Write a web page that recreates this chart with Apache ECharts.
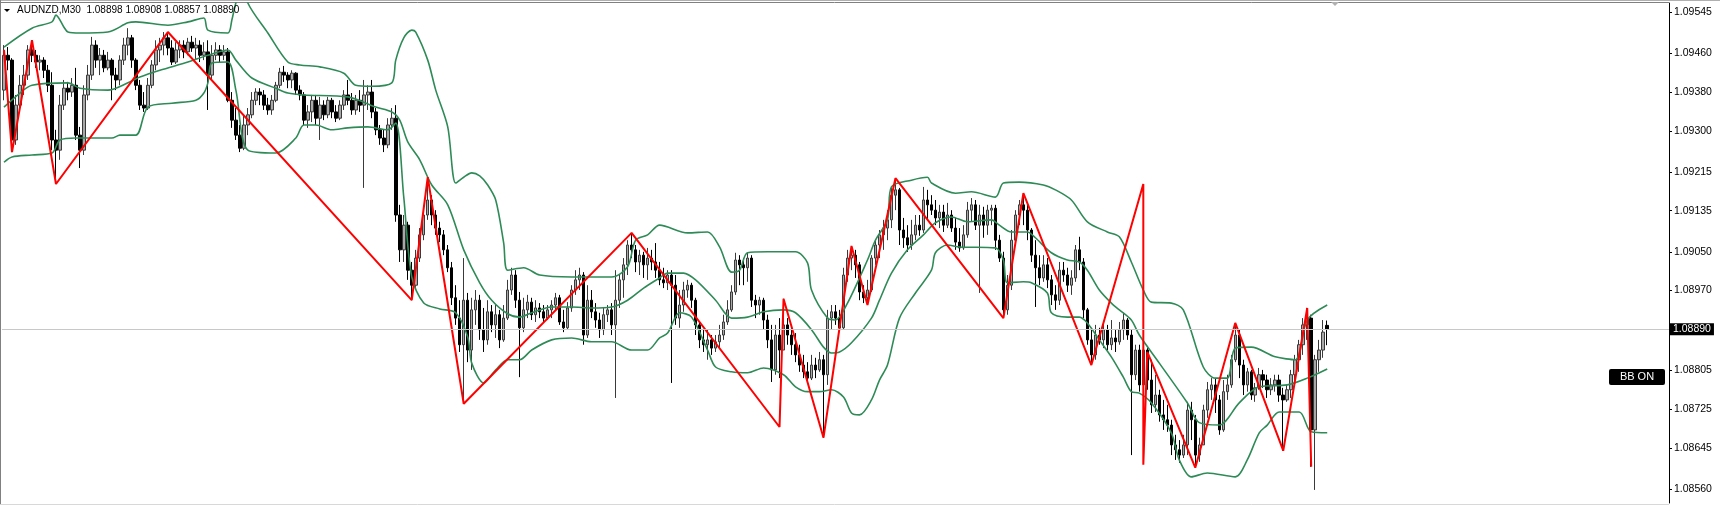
<!DOCTYPE html>
<html><head><meta charset="utf-8">
<script src="https://cdn.jsdelivr.net/npm/echarts@6/dist/echarts.min.js"></script>
<style>html,body{margin:0;padding:0;background:#fff}#c{width:1720px;height:505px}</style>
</head><body><div id="c"></div><script>
const symbolName = 'AUDNZD,M30';
const lastQuote = ['1.08898','1.08908','1.08857','1.08890'];
const currentPrice = 1.08890;
const indicatorTag = 'BB ON';
const tickLabels = ['1.08560','1.08645','1.08725','1.08805','1.08970','1.09050','1.09135','1.09215','1.09300','1.09380','1.09460','1.09545'];
const totalSlots = 417;

const open = [1.09384,1.09456,1.09446,1.09281,1.09353,1.09394,1.09415,1.09467,1.09456,1.09442,
1.09446,1.09425,1.09394,1.09281,1.09260,1.09353,1.09388,1.09380,1.09394,1.09291,
1.09260,1.09374,1.09415,1.09477,1.09446,1.09456,1.09430,1.09446,1.09415,1.09405,
1.09446,1.09477,1.09492,1.09446,1.09394,1.09353,1.09347,1.09394,1.09436,1.09467,
1.09477,1.09492,1.09471,1.09442,1.09467,1.09477,1.09463,1.09483,1.09471,1.09477,
1.09456,1.09463,1.09415,1.09456,1.09467,1.09456,1.09463,1.09363,1.09322,1.09291,
1.09264,1.09312,1.09333,1.09363,1.09380,1.09374,1.09353,1.09343,1.09363,1.09394,
1.09421,1.09415,1.09405,1.09419,1.09384,1.09374,1.09322,1.09339,1.09363,1.09326,
1.09353,1.09333,1.09363,1.09339,1.09326,1.09353,1.09374,1.09363,1.09343,1.09363,
1.09353,1.09374,1.09380,1.09339,1.09302,1.09285,1.09271,1.09312,1.09326,1.09126,
1.09054,1.09105,1.09012,1.08981,1.09037,1.09085,1.09126,1.09157,1.09126,1.09099,
1.09085,1.09054,1.09017,1.08955,1.08913,1.08858,1.08950,1.08847,1.08930,1.08950,
1.08889,1.08868,1.08926,1.08899,1.08920,1.08868,1.08913,1.08971,1.09002,1.08950,
1.08893,1.08930,1.08946,1.08920,1.08934,1.08926,1.08913,1.08930,1.08940,1.08955,
1.08905,1.08893,1.08934,1.08971,1.08992,1.09002,1.08878,1.08950,1.08926,1.08909,
1.08889,1.08920,1.08930,1.08899,1.08950,1.08992,1.09023,1.09064,1.09054,1.09029,
1.09043,1.09023,1.09037,1.09029,1.09012,1.08992,1.08986,1.09002,1.08981,1.08913,
1.08940,1.08971,1.08981,1.08950,1.08899,1.08868,1.08858,1.08868,1.08851,1.08864,
1.08878,1.08905,1.08930,1.08967,1.09033,1.09023,1.09017,1.09037,1.08950,1.08940,
1.08950,1.08909,1.08868,1.08806,1.08878,1.08847,1.08899,1.08878,1.08858,1.08837,
1.08816,1.08802,1.08789,1.08816,1.08806,1.08827,1.08796,1.08913,1.08926,1.08913,
1.08893,1.09002,1.09037,1.09043,1.09023,1.08967,1.08955,1.08971,1.09037,1.09064,
1.09085,1.09099,1.09116,1.09167,1.09178,1.09095,1.09079,1.09064,1.09085,1.09105,
1.09095,1.09157,1.09147,1.09136,1.09120,1.09132,1.09105,1.09126,1.09099,1.09070,
1.09058,1.09085,1.09136,1.09147,1.09105,1.09126,1.09105,1.09136,1.09140,1.09074,
1.09037,1.08930,1.08981,1.09074,1.09126,1.09147,1.09136,1.09095,1.09043,1.09017,
1.08996,1.09023,1.08992,1.08961,1.08950,1.09012,1.09002,1.08981,1.08996,1.09054,
1.09029,1.08930,1.08868,1.08837,1.08878,1.08868,1.08889,1.08858,1.08872,1.08864,
1.08889,1.08909,1.08878,1.08796,1.08847,1.08775,1.08847,1.08785,1.08734,1.08754,
1.08713,1.08703,1.08692,1.08651,1.08641,1.08630,1.08651,1.08723,1.08703,1.08630,
1.08651,1.08723,1.08765,1.08775,1.08744,1.08682,1.08761,1.08775,1.08827,1.08878,
1.08816,1.08775,1.08802,1.08754,1.08769,1.08796,1.08785,1.08765,1.08775,1.08785,
1.08754,1.08744,1.08765,1.08796,1.08827,1.08858,1.08899,1.08913,1.08682,1.08827,
1.08847,1.08898];

const close = [1.09456,1.09446,1.09281,1.09353,1.09394,1.09415,1.09467,1.09456,1.09442,1.09446,
1.09425,1.09394,1.09281,1.09260,1.09353,1.09388,1.09380,1.09394,1.09291,1.09260,
1.09374,1.09415,1.09477,1.09446,1.09456,1.09430,1.09446,1.09415,1.09405,1.09446,
1.09477,1.09492,1.09446,1.09394,1.09353,1.09347,1.09394,1.09436,1.09467,1.09477,
1.09492,1.09471,1.09442,1.09467,1.09477,1.09463,1.09483,1.09471,1.09477,1.09456,
1.09463,1.09415,1.09456,1.09467,1.09456,1.09463,1.09363,1.09322,1.09291,1.09264,
1.09312,1.09333,1.09363,1.09380,1.09374,1.09353,1.09343,1.09363,1.09394,1.09421,
1.09415,1.09405,1.09419,1.09384,1.09374,1.09322,1.09339,1.09363,1.09326,1.09353,
1.09333,1.09363,1.09339,1.09326,1.09353,1.09374,1.09363,1.09343,1.09363,1.09353,
1.09374,1.09380,1.09339,1.09302,1.09285,1.09271,1.09312,1.09326,1.09126,1.09054,
1.09105,1.09012,1.08981,1.09037,1.09085,1.09126,1.09157,1.09126,1.09099,1.09085,
1.09054,1.09017,1.08955,1.08913,1.08858,1.08950,1.08847,1.08930,1.08950,1.08889,
1.08868,1.08926,1.08899,1.08920,1.08868,1.08913,1.08971,1.09002,1.08950,1.08893,
1.08930,1.08946,1.08920,1.08934,1.08926,1.08913,1.08930,1.08940,1.08955,1.08905,
1.08893,1.08934,1.08971,1.08992,1.09002,1.08878,1.08950,1.08926,1.08909,1.08889,
1.08920,1.08930,1.08899,1.08950,1.08992,1.09023,1.09064,1.09054,1.09029,1.09043,
1.09023,1.09037,1.09029,1.09012,1.08992,1.08986,1.09002,1.08981,1.08913,1.08940,
1.08971,1.08981,1.08950,1.08899,1.08868,1.08858,1.08868,1.08851,1.08864,1.08878,
1.08905,1.08930,1.08967,1.09033,1.09023,1.09017,1.09037,1.08950,1.08940,1.08950,
1.08909,1.08868,1.08806,1.08878,1.08847,1.08899,1.08878,1.08858,1.08837,1.08816,
1.08802,1.08789,1.08816,1.08806,1.08827,1.08796,1.08913,1.08926,1.08913,1.08893,
1.09002,1.09037,1.09043,1.09023,1.08967,1.08955,1.08971,1.09037,1.09064,1.09085,
1.09099,1.09116,1.09167,1.09178,1.09095,1.09079,1.09064,1.09085,1.09105,1.09095,
1.09157,1.09147,1.09136,1.09120,1.09132,1.09105,1.09126,1.09099,1.09070,1.09058,
1.09085,1.09136,1.09147,1.09105,1.09126,1.09105,1.09136,1.09140,1.09074,1.09037,
1.08930,1.08981,1.09074,1.09126,1.09147,1.09136,1.09095,1.09043,1.09017,1.08996,
1.09023,1.08992,1.08961,1.08950,1.09012,1.09002,1.08981,1.08996,1.09054,1.09029,
1.08930,1.08868,1.08837,1.08878,1.08868,1.08889,1.08858,1.08872,1.08864,1.08889,
1.08909,1.08878,1.08796,1.08847,1.08775,1.08847,1.08785,1.08734,1.08754,1.08713,
1.08703,1.08692,1.08651,1.08641,1.08630,1.08651,1.08723,1.08703,1.08630,1.08651,
1.08723,1.08765,1.08775,1.08744,1.08682,1.08761,1.08775,1.08827,1.08878,1.08816,
1.08775,1.08802,1.08754,1.08769,1.08796,1.08785,1.08765,1.08775,1.08785,1.08754,
1.08744,1.08765,1.08796,1.08827,1.08858,1.08899,1.08913,1.08682,1.08827,1.08847,
1.08884,1.08890];

const high = [1.09477,1.09473,1.09450,1.09374,1.09415,1.09436,1.09477,1.09487,1.09467,1.09456,
1.09452,1.09436,1.09421,1.09302,1.09374,1.09405,1.09401,1.09409,1.09430,1.09308,
1.09394,1.09436,1.09494,1.09487,1.09471,1.09467,1.09463,1.09450,1.09430,1.09456,
1.09492,1.09512,1.09498,1.09450,1.09405,1.09380,1.09409,1.09446,1.09487,1.09492,
1.09504,1.09504,1.09487,1.09483,1.09487,1.09487,1.09492,1.09496,1.09492,1.09487,
1.09483,1.09487,1.09477,1.09483,1.09477,1.09477,1.09471,1.09380,1.09347,1.09312,
1.09333,1.09347,1.09380,1.09388,1.09388,1.09384,1.09368,1.09374,1.09401,1.09430,
1.09434,1.09421,1.09425,1.09421,1.09394,1.09380,1.09353,1.09374,1.09374,1.09370,
1.09363,1.09370,1.09368,1.09353,1.09363,1.09384,1.09405,1.09378,1.09374,1.09384,
1.09405,1.09394,1.09405,1.09347,1.09312,1.09302,1.09326,1.09347,1.09353,1.09147,
1.09126,1.09112,1.09029,1.09054,1.09099,1.09140,1.09204,1.09167,1.09136,1.09112,
1.09095,1.09064,1.09029,1.08981,1.08950,1.09037,1.08965,1.08955,1.08971,1.08961,
1.08934,1.08950,1.08940,1.08940,1.08930,1.08940,1.08992,1.09017,1.09012,1.08967,
1.08955,1.08961,1.08955,1.08950,1.08944,1.08940,1.08940,1.08950,1.08965,1.08961,
1.08930,1.08946,1.08981,1.09012,1.09017,1.09008,1.08981,1.08971,1.08944,1.08924,
1.08936,1.08940,1.08944,1.09012,1.09002,1.09037,1.09074,1.09089,1.09064,1.09054,
1.09050,1.09058,1.09054,1.09068,1.09029,1.09017,1.09012,1.09012,1.09002,1.08971,
1.08988,1.08992,1.08986,1.08955,1.08905,1.08889,1.08889,1.08878,1.08878,1.08899,
1.08920,1.08950,1.08981,1.09048,1.09043,1.09037,1.09048,1.09043,1.08961,1.08957,
1.08955,1.08920,1.08899,1.08899,1.08913,1.08953,1.08913,1.08893,1.08882,1.08858,
1.08837,1.08822,1.08837,1.08831,1.08843,1.08837,1.08930,1.08940,1.08940,1.08930,
1.09017,1.09054,1.09062,1.09054,1.09029,1.08981,1.08992,1.09043,1.09074,1.09095,
1.09116,1.09136,1.09182,1.09202,1.09182,1.09120,1.09105,1.09116,1.09126,1.09126,
1.09184,1.09178,1.09167,1.09157,1.09147,1.09147,1.09151,1.09136,1.09120,1.09099,
1.09105,1.09153,1.09161,1.09157,1.09147,1.09143,1.09147,1.09147,1.09147,1.09085,
1.09050,1.09002,1.09095,1.09136,1.09157,1.09171,1.09147,1.09099,1.09074,1.09043,
1.09043,1.09037,1.09002,1.08981,1.09029,1.09029,1.09017,1.09012,1.09064,1.09081,
1.09037,1.08934,1.08889,1.08899,1.08893,1.08905,1.08899,1.08909,1.08889,1.08905,
1.08924,1.08913,1.08889,1.08858,1.08858,1.08862,1.08851,1.08827,1.08796,1.08765,
1.08744,1.08734,1.08703,1.08672,1.08661,1.08672,1.08740,1.08740,1.08713,1.08666,
1.08734,1.08781,1.08789,1.08789,1.08754,1.08785,1.08796,1.08837,1.08903,1.08889,
1.08827,1.08810,1.08806,1.08779,1.08810,1.08806,1.08796,1.08789,1.08796,1.08796,
1.08769,1.08775,1.08806,1.08837,1.08868,1.08913,1.08934,1.08920,1.08837,1.08868,
1.08909,1.08908];

const low = [1.09363,1.09425,1.09256,1.09271,1.09343,1.09374,1.09405,1.09442,1.09430,1.09425,
1.09409,1.09380,1.09260,1.09190,1.09240,1.09343,1.09363,1.09370,1.09281,1.09223,
1.09250,1.09363,1.09405,1.09430,1.09415,1.09421,1.09425,1.09363,1.09384,1.09394,
1.09436,1.09456,1.09430,1.09384,1.09343,1.09339,1.09343,1.09388,1.09425,1.09442,
1.09456,1.09456,1.09436,1.09438,1.09450,1.09450,1.09456,1.09463,1.09446,1.09442,
1.09446,1.09343,1.09405,1.09446,1.09442,1.09446,1.09359,1.09306,1.09281,1.09256,
1.09260,1.09291,1.09326,1.09353,1.09353,1.09343,1.09333,1.09333,1.09359,1.09388,
1.09401,1.09388,1.09388,1.09374,1.09363,1.09312,1.09306,1.09318,1.09312,1.09281,
1.09322,1.09326,1.09326,1.09318,1.09322,1.09343,1.09353,1.09333,1.09333,1.09339,
1.09182,1.09343,1.09326,1.09291,1.09271,1.09256,1.09264,1.09302,1.09112,1.09029,
1.09029,1.08992,1.08950,1.08975,1.09029,1.09074,1.09116,1.09105,1.09085,1.09070,
1.09043,1.09008,1.08940,1.08899,1.08843,1.08736,1.08822,1.08806,1.08899,1.08868,
1.08843,1.08858,1.08884,1.08872,1.08851,1.08864,1.08909,1.08961,1.08934,1.08791,
1.08884,1.08913,1.08909,1.08905,1.08913,1.08905,1.08909,1.08913,1.08930,1.08899,
1.08884,1.08889,1.08926,1.08961,1.08971,1.08858,1.08872,1.08913,1.08893,1.08872,
1.08878,1.08905,1.08878,1.08748,1.08934,1.08955,1.09002,1.09037,1.09008,1.09002,
1.08996,1.08992,1.09012,1.08996,1.08981,1.08975,1.08971,1.08779,1.08899,1.08893,
1.08926,1.08955,1.08934,1.08878,1.08851,1.08843,1.08827,1.08837,1.08843,1.08851,
1.08868,1.08899,1.08926,1.08961,1.08981,1.08981,1.08988,1.08936,1.08913,1.08920,
1.08889,1.08851,1.08781,1.08796,1.08789,1.08847,1.08858,1.08837,1.08822,1.08802,
1.08789,1.08781,1.08785,1.08789,1.08802,1.08666,1.08775,1.08889,1.08899,1.08884,
1.08889,1.08988,1.09012,1.08996,1.08950,1.08944,1.08940,1.08967,1.09023,1.09037,
1.09054,1.09074,1.09099,1.09136,1.09064,1.09058,1.09050,1.09054,1.09074,1.09083,
1.09089,1.09116,1.09126,1.09105,1.09099,1.09091,1.09099,1.09091,1.09054,1.09050,
1.09054,1.09079,1.09112,1.09095,1.08965,1.09079,1.09085,1.09105,1.09054,1.09029,
1.08913,1.08920,1.08971,1.09064,1.09105,1.09105,1.09074,1.09029,1.08936,1.08981,
1.08988,1.08975,1.08940,1.08930,1.08940,1.08988,1.08967,1.08961,1.08988,1.09012,
1.08913,1.08858,1.08816,1.08827,1.08858,1.08851,1.08847,1.08847,1.08843,1.08858,
1.08868,1.08868,1.08630,1.08785,1.08761,1.08734,1.08765,1.08717,1.08719,1.08699,
1.08682,1.08678,1.08630,1.08620,1.08614,1.08624,1.08630,1.08661,1.08604,1.08616,
1.08651,1.08707,1.08744,1.08717,1.08672,1.08678,1.08744,1.08769,1.08822,1.08789,
1.08754,1.08761,1.08744,1.08740,1.08765,1.08769,1.08748,1.08754,1.08761,1.08740,
1.08639,1.08740,1.08748,1.08775,1.08802,1.08837,1.08868,1.08606,1.08558,1.08802,
1.08831,1.08857];

// Bollinger bands as [bar index, price]
const upperBand = [[0,1.09473],[7,1.09512],[12,1.09525],[13,1.09539],[15,1.09514],[16,1.09504],[19,1.09502],[26,1.09504],[31,1.09523],[33,1.09525],[41,1.09518],[46,1.09525],[50,1.09533],[51,1.09508],[56,1.09502],[57,1.09529],[58,1.09564],[60,1.09611],[61,1.09564],[66,1.09502],[71,1.09442],[74,1.09436],[79,1.09432],[85,1.09419],[88,1.09394],[92,1.09392],[97,1.09399],[98,1.09446],[100,1.09492],[102,1.09508],[103,1.09504],[106,1.09446],[108,1.09384],[111,1.09308],[113,1.09192],[115,1.09204],[117,1.09213],[119,1.09207],[121,1.09188],[123,1.09157],[125,1.09068],[126,1.09012],[130,1.09017],[134,1.09002],[142,1.08998],[152,1.08998],[156,1.09019],[158,1.09074],[161,1.09085],[164,1.09105],[171,1.09089],[176,1.09091],[179,1.09060],[182,1.09008],[184,1.09012],[186,1.09048],[191,1.09050],[198,1.09050],[201,1.09027],[202,1.08971],[206,1.08913],[208,1.08909],[211,1.08944],[216,1.09033],[218,1.09074],[221,1.09116],[222,1.09184],[227,1.09198],[231,1.09204],[232,1.09192],[238,1.09171],[242,1.09174],[248,1.09163],[250,1.09192],[254,1.09194],[260,1.09188],[263,1.09178],[267,1.09157],[271,1.09112],[276,1.09091],[279,1.09081],[282,1.09029],[285,1.08971],[287,1.08946],[292,1.08944],[295,1.08930],[300,1.08812],[303,1.08789],[306,1.08789],[308,1.08851],[312,1.08853],[318,1.08833],[323,1.08827],[326,1.08909],[331,1.08940]];
const middleBand = [[0,1.09349],[4,1.09378],[7,1.09394],[16,1.09399],[19,1.09388],[26,1.09384],[31,1.09399],[34,1.09411],[39,1.09425],[46,1.09442],[51,1.09456],[56,1.09467],[58,1.09446],[62,1.09409],[68,1.09388],[71,1.09378],[75,1.09374],[86,1.09370],[93,1.09349],[97,1.09339],[99,1.09322],[101,1.09277],[104,1.09240],[107,1.09188],[111,1.09147],[115,1.09054],[119,1.08986],[122,1.08950],[126,1.08922],[129,1.08915],[132,1.08924],[137,1.08936],[142,1.08936],[147,1.08934],[152,1.08936],[156,1.08950],[160,1.08975],[164,1.08996],[166,1.09006],[170,1.09006],[173,1.08992],[178,1.08950],[182,1.08913],[186,1.08915],[190,1.08926],[195,1.08930],[198,1.08924],[202,1.08889],[205,1.08853],[207,1.08841],[209,1.08843],[212,1.08862],[217,1.08913],[219,1.08950],[222,1.09006],[226,1.09054],[230,1.09085],[233,1.09110],[237,1.09122],[241,1.09112],[247,1.09116],[249,1.09105],[252,1.09091],[256,1.09091],[258,1.09079],[262,1.09048],[266,1.09033],[269,1.09029],[271,1.09012],[274,1.08971],[277,1.08944],[279,1.08930],[282,1.08909],[284,1.08878],[289,1.08820],[296,1.08738],[299,1.08697],[304,1.08692],[309,1.08738],[314,1.08771],[321,1.08775],[326,1.08789],[331,1.08808]];
const lowerBand = [[0,1.09235],[2,1.09246],[7,1.09250],[12,1.09254],[14,1.09281],[18,1.09285],[27,1.09285],[29,1.09291],[33,1.09291],[36,1.09349],[42,1.09357],[48,1.09363],[50,1.09378],[51,1.09399],[52,1.09440],[56,1.09442],[58,1.09384],[61,1.09260],[68,1.09254],[73,1.09285],[75,1.09312],[78,1.09312],[82,1.09302],[86,1.09306],[91,1.09308],[96,1.09302],[98,1.09316],[100,1.09163],[102,1.08998],[105,1.08944],[109,1.08932],[113,1.08924],[116,1.08874],[117,1.08820],[120,1.08779],[123,1.08806],[126,1.08827],[129,1.08827],[132,1.08847],[137,1.08868],[142,1.08872],[147,1.08864],[152,1.08864],[157,1.08847],[161,1.08847],[164,1.08872],[166,1.08882],[169,1.08924],[172,1.08915],[176,1.08847],[178,1.08812],[182,1.08802],[186,1.08800],[190,1.08810],[195,1.08796],[198,1.08771],[201,1.08761],[204,1.08761],[207,1.08765],[210,1.08750],[212,1.08717],[214,1.08713],[217,1.08744],[219,1.08785],[221,1.08816],[224,1.08913],[228,1.08965],[232,1.09012],[233,1.09048],[236,1.09064],[239,1.09060],[248,1.09058],[250,1.09033],[251,1.08986],[255,1.08988],[257,1.08986],[261,1.08965],[262,1.08924],[266,1.08915],[269,1.08915],[271,1.08903],[274,1.08868],[277,1.08833],[280,1.08791],[282,1.08761],[284,1.08758],[287,1.08738],[292,1.08676],[294,1.08620],[297,1.08585],[301,1.08593],[308,1.08585],[311,1.08620],[314,1.08676],[316,1.08692],[319,1.08719],[324,1.08719],[327,1.08678],[331,1.08676]];
const zigzag = [[0,1.09467],[2,1.09256],[7,1.09487],[13,1.09190],[41,1.09504],[102,1.08950],[106,1.09204],[115,1.08736],[157,1.09089],[194,1.08688],[195,1.08953],[205,1.08666],[212,1.09062],[216,1.08940],[223,1.09202],[250,1.08913],[255,1.09171],[272,1.08816],[285,1.09190],[285,1.08610],[286,1.08843],[298,1.08604],[308,1.08903],[320,1.08639],[326,1.08934],[327,1.08606]];

const cats = Array.from({length: totalSlots}, (_, i) => String(i));
const candles = open.map((o, i) => [o, close[i], low[i], high[i]]);
const tickValues = tickLabels.map(Number);
const FONT = '"Liberation Sans", Arial, sans-serif';
const bandStyle = {color: '#2e8b57', width: 1.6};

const chart = echarts.init(document.getElementById('c'), null, {renderer: 'canvas'});
chart.setOption({
  animation: false,
  backgroundColor: '#ffffff',
  textStyle: {fontFamily: FONT},
  grid: [{left: 2, right: 51, top: 3, height: 500}],
  xAxis: [{type: 'category', data: cats, boundaryGap: true, show: false}],
  yAxis: [{
    type: 'value', position: 'right', min: 1.08531, max: 1.09564,
    axisLine: {show: true, lineStyle: {color: '#000', width: 1}},
    axisTick: {show: true, length: 3, lineStyle: {color: '#000'}, customValues: tickValues},
    axisLabel: {show: true, margin: 5, fontSize: 10.5, color: '#000', fontFamily: FONT,
                customValues: tickValues, formatter: v => v.toFixed(5)},
    splitLine: {show: false}
  }],
  series: [
    {
      type: 'candlestick', data: candles, barWidth: 3, z: 2,
      itemStyle: {color: '#a8a8a8', color0: '#000000', borderColor: '#3a3a3a', borderColor0: '#000000', borderWidth: 1}
    },
    {type: 'line', name: 'upper', data: upperBand, smooth: 0.3, showSymbol: false, lineStyle: bandStyle, z: 3, clip: true},
    {type: 'line', name: 'middle', data: middleBand, smooth: 0.3, showSymbol: false, lineStyle: bandStyle, z: 3, clip: true,
     markLine: {
       silent: true, symbol: 'none', animation: false, precision: 5,
       lineStyle: {color: '#c8c8c8', width: 1, type: 'solid'},
       label: {show: true, position: 'end', formatter: currentPrice.toFixed(5), distance: 1,
               backgroundColor: '#000', color: '#fff', fontSize: 10.5, padding: [1, 3, 0, 3], fontFamily: FONT},
       data: [{yAxis: currentPrice}]
     }},
    {type: 'line', name: 'lower', data: lowerBand, smooth: 0.3, showSymbol: false, lineStyle: bandStyle, z: 3, clip: true},
    {type: 'line', name: 'zigzag', data: zigzag, showSymbol: false, lineStyle: {color: '#ff0000', width: 2}, z: 4, clip: true}
  ],
  graphic: [
    {type: 'line', shape: {x1: 0, y1: 0.5, x2: 1720, y2: 0.5}, style: {stroke: '#b0b0b0', lineWidth: 1}, silent: true},
    {type: 'line', shape: {x1: 0, y1: 2.5, x2: 1669, y2: 2.5}, style: {stroke: '#808080', lineWidth: 1}, silent: true},
    {type: 'line', shape: {x1: 0.5, y1: 0, x2: 0.5, y2: 505}, style: {stroke: '#808080', lineWidth: 1}, silent: true},
    {type: 'line', shape: {x1: 0, y1: 504.5, x2: 1669, y2: 504.5}, style: {stroke: '#d8d8d8', lineWidth: 1}, silent: true},
    {type: 'polygon', shape: {points: [[4, 9], [10, 9], [7, 12]]}, style: {fill: '#000'}, silent: true},
    {type: 'polygon', shape: {points: [[1331, 2], [1339, 2], [1335, 6]]}, style: {fill: '#b0b0b0'}, silent: true},
    {type: 'text', x: 17, y: 5, z: 11, silent: true,
     style: {text: symbolName + '  ' + lastQuote.join(' '), fill: '#000', font: '10px ' + FONT, textAlign: 'left', textVerticalAlign: 'top', align: 'left', verticalAlign: 'top'}},
    {type: 'rect', shape: {x: 1609, y: 369, width: 56, height: 16, r: 2}, style: {fill: '#000'}, silent: true, z: 10},
    {type: 'text', x: 1637, y: 377, z: 11, silent: true,
     style: {text: indicatorTag, fill: '#fff', font: '11px ' + FONT, textAlign: 'center', textVerticalAlign: 'middle', align: 'center', verticalAlign: 'middle'}}
  ]
});
</script></body></html>
